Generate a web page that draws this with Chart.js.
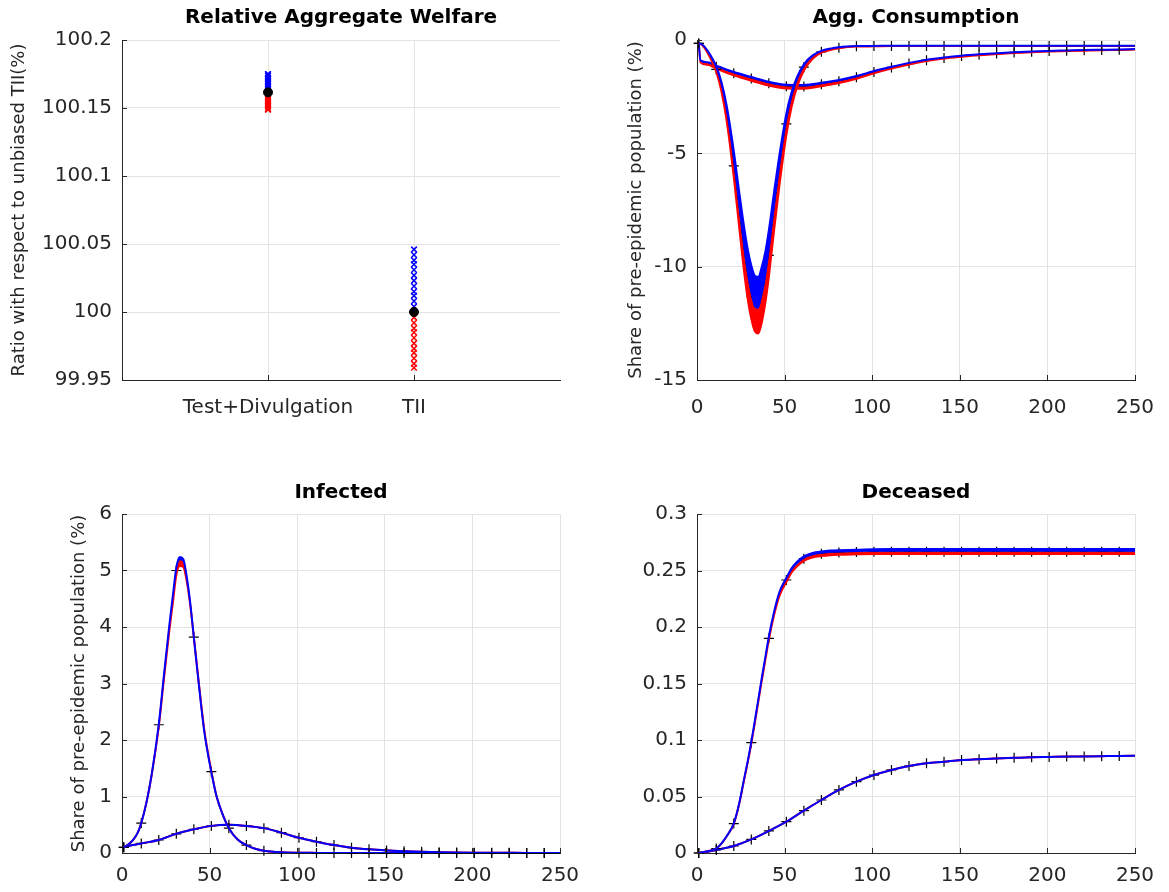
<!DOCTYPE html>
<html>
<head>
<meta charset="utf-8">
<script src="https://cdn.jsdelivr.net/npm/chart.js@4.4.1/dist/chart.umd.min.js"></script>
<style>
  body { margin: 0; background: #fff; width: 1169px; height: 892px; overflow: hidden; position: relative; }
  canvas { position: absolute; }
</style>
</head>
<body>
<canvas id="cWel" width="580" height="446" style="left:0;top:0"></canvas>
<canvas id="cCons" width="589" height="446" style="left:580px;top:0"></canvas>
<canvas id="cInf" width="580" height="446" style="left:0;top:446px"></canvas>
<canvas id="cDec" width="589" height="446" style="left:580px;top:446px"></canvas>
<script>
// --- data ---
// welfare (ratio to unbiased TII, %)
const WEL_CATS = ['Test+Divulgation', 'TII'];
const WEL_BASE = [100.1615, 100.0];
const WEL_TD_BLUE = [100.1628, 100.164, 100.1652, 100.1664, 100.1676, 100.1688, 100.17, 100.1712, 100.1724, 100.1736, 100.1748, 100.175];
const WEL_TD_RED = [100.1603, 100.159, 100.1578, 100.1565, 100.1552, 100.154, 100.1527, 100.1515, 100.1502, 100.149, 100.1488];
const WEL_TII_BLUE = [100.004, 100.008, 100.012, 100.015, 100.019, 100.023, 100.027, 100.031, 100.035, 100.038, 100.042, 100.046];
const WEL_TII_RED = [99.996, 99.992, 99.988, 99.985, 99.981, 99.977, 99.973, 99.970, 99.966, 99.962, 99.959];

// time grids (periods)
const T_FAST = [1, 3, 6, 9, 11, 14, 17, 21, 24, 27, 29, 31, 33, 35, 37, 39, 41, 44, 47, 51, 54, 57, 61, 66, 71, 76, 81, 91, 101,
  111, 121, 131, 141, 151, 161, 171, 181, 191, 201, 211, 221, 231, 241, 250];
const T_SLOW = [1, 2, 6, 11, 21, 31, 41, 51, 61, 71, 81, 91, 101, 111, 121, 131, 141, 151, 161, 171, 181, 191, 201, 211, 221, 231, 241, 250];

// Agg. consumption, TII (deep) : red = lowest run, blue = highest run
const CONS_TII = [-0.15, -0.22, -0.52, -0.95, -1.3, -2.1, -3.3, -5.55, -7.55, -9.45,
  -10.5, -11.3, -11.8, -11.85, -11.35, -10.6, -9.5, -7.6, -5.8, -3.7,
  -2.6, -1.85, -1.2, -0.75, -0.52, -0.41, -0.34, -0.28, -0.27,
  -0.26, -0.26, -0.26, -0.26, -0.26, -0.26, -0.26, -0.26, -0.26, -0.26, -0.26, -0.26, -0.26, -0.26, -0.26];
const CONS_TII_RED = [-0.15, -0.23, -0.56, -1.03, -1.41, -2.28, -3.6, -6.05, -8.2, -10.3,
  -11.45, -12.3, -12.85, -12.95, -12.45, -11.6, -10.45, -8.4, -6.45, -4.2,
  -2.95, -2.1, -1.35, -0.83, -0.56, -0.44, -0.36, -0.29, -0.28,
  -0.27, -0.27, -0.27, -0.27, -0.27, -0.27, -0.27, -0.27, -0.27, -0.27, -0.27, -0.27, -0.27, -0.27, -0.27];
const CONS_TII_BLUE = [-0.15, -0.2, -0.47, -0.85, -1.16, -1.86, -2.92, -4.9, -6.65, -8.3,
  -9.25, -9.95, -10.4, -10.45, -10.0, -9.35, -8.4, -6.7, -5.1, -3.25,
  -2.3, -1.65, -1.07, -0.68, -0.48, -0.38, -0.32, -0.27, -0.26,
  -0.25, -0.25, -0.25, -0.25, -0.25, -0.25, -0.25, -0.25, -0.25, -0.25, -0.25, -0.25, -0.25, -0.25, -0.25];
// Agg. consumption, Test+Divulgation (shallow)
const CONS_TD = [-0.15, -0.93, -1.02, -1.18, -1.47, -1.7, -1.91, -2.04, -2.05, -1.95, -1.82, -1.64, -1.41, -1.21,
  -1.04, -0.89, -0.79, -0.71, -0.65, -0.6, -0.55, -0.52, -0.49, -0.47, -0.45, -0.44, -0.43, -0.41];
const CONS_TD_RED = [-0.15, -0.98, -1.09, -1.26, -1.56, -1.8, -2.01, -2.14, -2.15, -2.04, -1.9, -1.71, -1.47, -1.26,
  -1.08, -0.93, -0.82, -0.74, -0.67, -0.62, -0.57, -0.54, -0.51, -0.49, -0.47, -0.45, -0.44, -0.42];
const CONS_TD_BLUE = [-0.15, -0.9, -0.98, -1.13, -1.41, -1.63, -1.84, -1.97, -1.98, -1.89, -1.76, -1.59, -1.37, -1.18,
  -1.01, -0.87, -0.77, -0.69, -0.63, -0.58, -0.54, -0.51, -0.48, -0.46, -0.44, -0.43, -0.42, -0.4];

// Infected (% of pre-epidemic population)
const INF_TII = [0.1, 0.14, 0.22, 0.36, 0.53, 0.9, 1.4, 2.27, 3.15, 4.0,
  4.5, 5.0, 5.18, 5.15, 4.85, 4.4, 3.82, 2.95, 2.15, 1.44,
  1.0, 0.72, 0.44, 0.24, 0.14, 0.075, 0.04, 0.012, 0.004,
  0.002, 0.001, 0.001, 0, 0, 0, 0, 0, 0, 0, 0, 0, 0, 0, 0];
const INF_TII_RED = [0.1, 0.14, 0.22, 0.36, 0.53, 0.9, 1.39, 2.24, 3.1, 3.93,
  4.42, 4.92, 5.08, 5.06, 4.8, 4.38, 3.82, 2.97, 2.17, 1.45,
  1.0, 0.72, 0.44, 0.24, 0.14, 0.075, 0.04, 0.012, 0.004,
  0.002, 0.001, 0.001, 0, 0, 0, 0, 0, 0, 0, 0, 0, 0, 0, 0];
const INF_TII_BLUE = [0.1, 0.14, 0.22, 0.36, 0.53, 0.9, 1.4, 2.28, 3.17, 4.03,
  4.55, 5.05, 5.24, 5.2, 4.88, 4.41, 3.82, 2.94, 2.14, 1.43,
  1.0, 0.72, 0.44, 0.24, 0.14, 0.075, 0.04, 0.012, 0.004,
  0.002, 0.001, 0.001, 0, 0, 0, 0, 0, 0, 0, 0, 0, 0, 0, 0];
const INF_TD = [0.1, 0.11, 0.14, 0.17, 0.23, 0.34, 0.42, 0.48, 0.5, 0.48, 0.44, 0.36, 0.27, 0.2,
  0.14, 0.094, 0.065, 0.045, 0.03, 0.02, 0.013, 0.009, 0.006, 0.004, 0.003, 0.002, 0.0015, 0.001];

// Deceased (% of pre-epidemic population)
const DEC_TII = [0, 0.0006, 0.0015, 0.0028, 0.004, 0.0085, 0.015, 0.026, 0.043, 0.066,
  0.081, 0.0976, 0.116, 0.135, 0.154, 0.172, 0.19, 0.212, 0.229, 0.2416,
  0.25, 0.2555, 0.2605, 0.2635, 0.2648, 0.2656, 0.266, 0.2663, 0.2665,
  0.2665, 0.2665, 0.2665, 0.2665, 0.2665, 0.2665, 0.2665, 0.2665, 0.2665, 0.2665, 0.2665, 0.2665, 0.2665, 0.2665, 0.2665];
const DEC_TII_RED = [0, 0.0006, 0.0015, 0.0028, 0.004, 0.0084, 0.0149, 0.0258, 0.0427, 0.0655,
  0.0804, 0.0969, 0.1151, 0.134, 0.1529, 0.1707, 0.1886, 0.2105, 0.2273, 0.2398,
  0.2482, 0.2536, 0.2586, 0.2615, 0.2628, 0.2636, 0.264, 0.2643, 0.2645,
  0.2645, 0.2645, 0.2645, 0.2645, 0.2645, 0.2645, 0.2645, 0.2645, 0.2645, 0.2645, 0.2645, 0.2645, 0.2645, 0.2645, 0.2645];
const DEC_TII_BLUE = [0, 0.0006, 0.0015, 0.0028, 0.004, 0.0086, 0.0151, 0.0262, 0.0433, 0.0665,
  0.0816, 0.0983, 0.1169, 0.136, 0.1551, 0.1733, 0.1914, 0.2136, 0.2307, 0.2434,
  0.2519, 0.2575, 0.2625, 0.2655, 0.2668, 0.2676, 0.268, 0.2683, 0.2688,
  0.269, 0.269, 0.269, 0.269, 0.269, 0.269, 0.269, 0.269, 0.269, 0.269, 0.269, 0.269, 0.269, 0.269, 0.269];
const DEC_TD = [0, 0.0002, 0.001, 0.0027, 0.0062, 0.012, 0.0195, 0.0277, 0.0375, 0.0469, 0.0558, 0.0631, 0.069, 0.0735,
  0.077, 0.0794, 0.0808, 0.0823, 0.083, 0.0837, 0.0842, 0.0847, 0.085, 0.0853, 0.0855, 0.0857, 0.0859, 0.086];

// --- styling ---
const BLUE = '#0000ff', RED = '#ff0000', INK = '#262626', GRID = '#e3e3e3';
const FAM = '"DejaVu Sans", sans-serif';
const YTITLE = 'Share of pre-epidemic population (%)';

function pts(t, v) { return t.map((x, i) => ({ x: x, y: v[i] })); }
function fmt(v) { return String(parseFloat(Number(v).toFixed(3))); }

// one simulation family: blue band, red band, black '+' baseline
function group(t, red, base, blue, first) {
  return [
    { data: pts(t, blue), borderColor: BLUE, backgroundColor: BLUE, borderWidth: 2, fill: { target: first + 2 } },
    { data: pts(t, red), borderColor: RED, backgroundColor: RED, borderWidth: 2, fill: { target: first + 2 } },
    { data: pts(t, base), borderColor: '#000', borderWidth: 1, fill: false, clip: false,
      pointStyle: 'cross', pointBorderColor: '#000', pointBorderWidth: 1.2,
      pointRadius: c => (c.raw && (c.raw.x - 1) % 10 === 0 ? 5 : 0) }
  ];
}

// panel title + inward tick marks
const deco = {
  id: 'deco',
  afterDraw(chart, args, o) {
    const ctx = chart.ctx, a = chart.chartArea;
    const sx = chart.scales.x, sy = chart.scales.y;
    ctx.save();
    ctx.strokeStyle = INK;
    ctx.lineWidth = 1;
    ctx.beginPath();
    sx.ticks.forEach(tk => {
      const p = Math.round(sx.getPixelForValue(tk.value)) + 0.5;
      ctx.moveTo(p, a.bottom); ctx.lineTo(p, a.bottom - 5);
    });
    sy.ticks.forEach(tk => {
      const p = Math.round(sy.getPixelForValue(tk.value)) + 0.5;
      ctx.moveTo(a.left, p); ctx.lineTo(a.left + 5, p);
    });
    ctx.stroke();
    ctx.fillStyle = '#000';
    ctx.font = 'bold 20px ' + FAM;
    ctx.textAlign = 'center';
    ctx.textBaseline = 'middle';
    ctx.fillText(o.text, (a.left + a.right) / 2, o.y);
    ctx.restore();
  }
};

function scales(p) {
  const x = {
    type: 'linear', min: p.xMin, max: p.xMax,
    ticks: { stepSize: 50, font: { family: FAM, size: 20 }, color: INK, padding: p.xPad, maxRotation: 0, autoSkip: false },
    grid: { color: GRID, drawTicks: false },
    border: { color: INK },
    afterFit: s => { s.height = p.xH; s.paddingLeft = 0; s.paddingRight = 0; }
  };
  if (p.cats) {
    x.afterBuildTicks = s => { s.ticks = [{ value: 1 }, { value: 2 }]; };
    x.ticks.callback = v => WEL_CATS[v - 1];
  }
  const y = {
    type: 'linear', min: p.yMin, max: p.yMax,
    ticks: { stepSize: p.yStep, font: { family: FAM, size: 20 }, color: INK, padding: 10, callback: fmt },
    grid: { color: GRID, drawTicks: false },
    border: { color: INK },
    title: { display: !!p.yTitle, text: p.yTitle, color: INK, font: { family: FAM, size: 18 } },
    afterFit: s => { s.width = p.yW; s.paddingTop = 0; s.paddingBottom = 0; }
  };
  return { x: x, y: y };
}

function make(id, type, datasets, p) {
  return new Chart(document.getElementById(id), {
    type: type,
    data: { datasets: datasets },
    options: {
      responsive: false, animation: false, devicePixelRatio: 1,
      layout: { padding: { left: p.padL, top: p.padT, right: p.padR, bottom: 0 } },
      elements: { line: { cubicInterpolationMode: 'monotone' }, point: { radius: 0 } },
      plugins: { legend: { display: false }, tooltip: { enabled: false }, deco: { text: p.title, y: p.titleY } },
      scales: scales(p)
    },
    plugins: [deco]
  });
}

// Relative Aggregate Welfare
const welSets = [
  { data: WEL_BASE.map((v, i) => ({ x: i + 1, y: v })), pointStyle: 'circle', pointRadius: 4.5,
    backgroundColor: '#000', borderColor: '#000', pointBorderWidth: 1 },
  { data: WEL_TD_BLUE.map(v => ({ x: 1, y: v })), pointStyle: 'crossRot', pointRadius: 4, borderColor: BLUE, pointBorderWidth: 1.5 },
  { data: WEL_TD_RED.map(v => ({ x: 1, y: v })), pointStyle: 'crossRot', pointRadius: 4, borderColor: RED, pointBorderWidth: 1.5 },
  { data: WEL_TII_BLUE.map(v => ({ x: 2, y: v })), pointStyle: 'crossRot', pointRadius: 4, borderColor: BLUE, pointBorderWidth: 1.5 },
  { data: WEL_TII_RED.map(v => ({ x: 2, y: v })), pointStyle: 'crossRot', pointRadius: 4, borderColor: RED, pointBorderWidth: 1.5 }
];
make('cWel', 'scatter', welSets, {
  title: 'Relative Aggregate Welfare', titleY: 18, cats: true,
  padL: 5, padT: 40, padR: 20, yW: 117, xH: 66, xPad: 16,
  xMin: 0, xMax: 3, yMin: 99.95, yMax: 100.2, yStep: 0.05,
  yTitle: 'Ratio with respect to unbiased TII(%)'
});

// Agg. Consumption
make('cCons', 'line',
  group(T_FAST, CONS_TII_RED, CONS_TII, CONS_TII_BLUE, 0).concat(group(T_SLOW, CONS_TD_RED, CONS_TD, CONS_TD_BLUE, 3)), {
  title: 'Agg. Consumption', titleY: 18,
  padL: 42, padT: 40, padR: 34, yW: 75, xH: 66, xPad: 16,
  xMin: 0, xMax: 250, yMin: -15, yMax: 0, yStep: 5, yTitle: YTITLE
});

// Infected
make('cInf', 'line',
  group(T_FAST, INF_TII_RED, INF_TII, INF_TII_BLUE, 0).concat(group(T_SLOW, INF_TD, INF_TD, INF_TD, 3)), {
  title: 'Infected', titleY: 47,
  padL: 65, padT: 68, padR: 20, yW: 57, xH: 39, xPad: 11,
  xMin: 0, xMax: 250, yMin: 0, yMax: 6, yStep: 1, yTitle: YTITLE
});

// Deceased
make('cDec', 'line',
  group(T_FAST, DEC_TII_RED, DEC_TII, DEC_TII_BLUE, 0).concat(group(T_SLOW, DEC_TD, DEC_TD, DEC_TD, 3)), {
  title: 'Deceased', titleY: 47,
  padL: 0, padT: 68, padR: 34, yW: 117, xH: 39, xPad: 11,
  xMin: 0, xMax: 250, yMin: 0, yMax: 0.3, yStep: 0.05, yTitle: ''
});
</script>
</body>
</html>
